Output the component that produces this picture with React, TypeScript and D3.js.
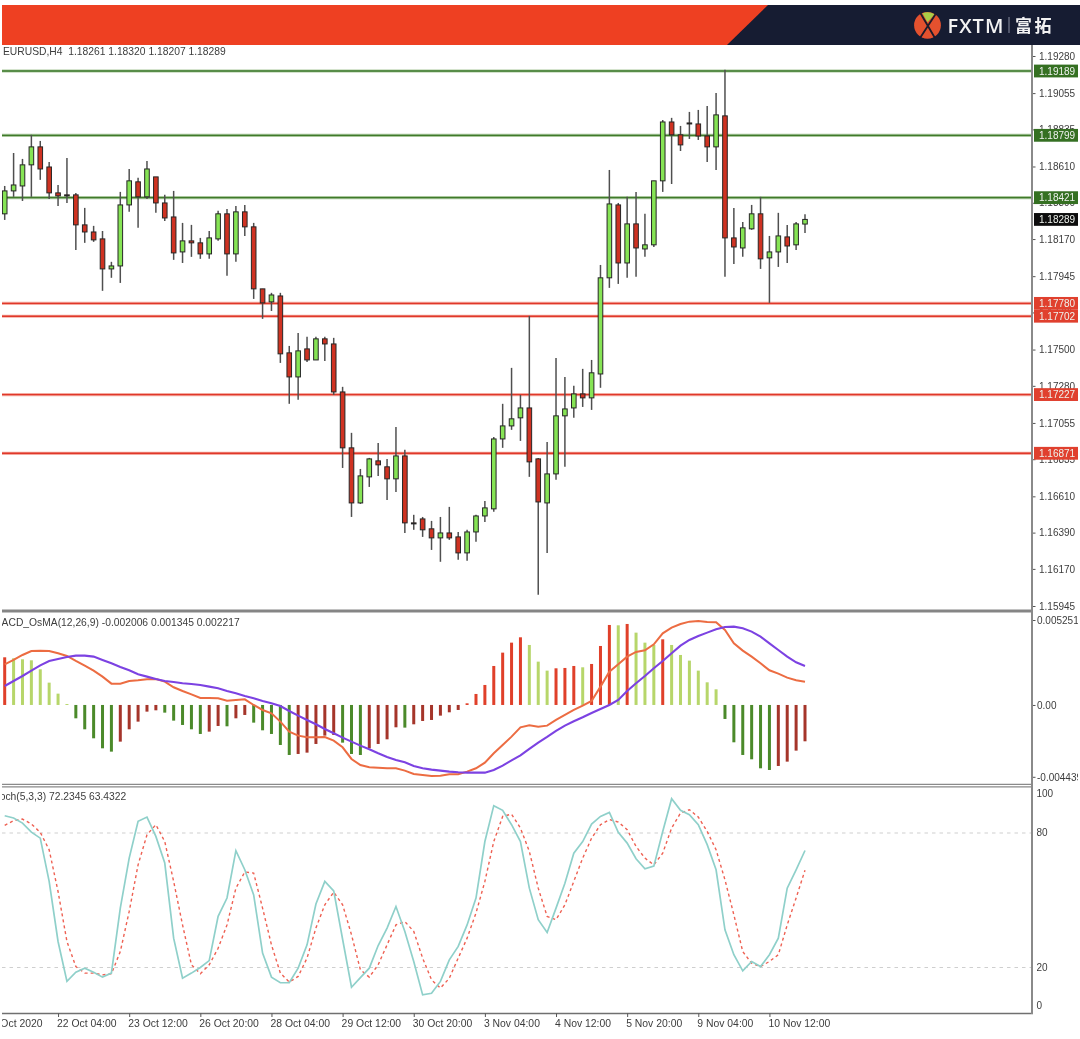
import React, { useEffect, useRef } from 'react';
import * as d3 from 'd3';

const opens = [
  1.18323, 1.18462, 1.18492, 1.18620, 1.18729, 1.18607, 1.18450, 1.18438, 1.18438, 1.18256, 1.18213, 1.18171, 1.17989,
  1.18007, 1.18377, 1.18517, 1.18426, 1.18547, 1.18389, 1.18304, 1.18092, 1.18159, 1.18147, 1.18080, 1.18171, 1.18323,
  1.18080, 1.18335, 1.18244, 1.17868, 1.17789, 1.17825, 1.17480, 1.17334, 1.17504, 1.17437, 1.17565, 1.17534, 1.17243,
  1.16904, 1.16570, 1.16728, 1.16825, 1.16789, 1.16716, 1.16855, 1.16449, 1.16473, 1.16413, 1.16358, 1.16388, 1.16364,
  1.16267, 1.16394, 1.16491, 1.16534, 1.16958, 1.17037, 1.17086, 1.17146, 1.16837, 1.16570, 1.16746, 1.17098, 1.17146,
  1.17231, 1.17207, 1.17352, 1.17935, 1.18377, 1.18025, 1.18262, 1.18110, 1.18135, 1.18523, 1.18880, 1.18802, 1.18874,
  1.18868, 1.18795, 1.18729, 1.18917, 1.18177, 1.18116, 1.18232, 1.18323, 1.18056, 1.18092, 1.18183, 1.18135, 1.18261,
];
const highs = [
  1.18492, 1.18692, 1.18656, 1.18802, 1.18765, 1.18638, 1.18498, 1.18662, 1.18450, 1.18359, 1.18250, 1.18219, 1.18032,
  1.18456, 1.18595, 1.18541, 1.18644, 1.18547, 1.18438, 1.18462, 1.18268, 1.18256, 1.18177, 1.18219, 1.18341, 1.18353,
  1.18371, 1.18377, 1.18268, 1.17868, 1.17844, 1.17844, 1.17522, 1.17601, 1.17577, 1.17577, 1.17577, 1.17571, 1.17274,
  1.16995, 1.16776, 1.16843, 1.16934, 1.16837, 1.17031, 1.16892, 1.16498, 1.16485, 1.16461, 1.16485, 1.16546, 1.16394,
  1.16407, 1.16498, 1.16582, 1.16970, 1.17171, 1.17389, 1.17225, 1.17704, 1.16843, 1.16940, 1.17449, 1.17334, 1.17280,
  1.17383, 1.17437, 1.18013, 1.18589, 1.18389, 1.18426, 1.18456, 1.18323, 1.18523, 1.18892, 1.18905, 1.18856, 1.18941,
  1.18953, 1.18977, 1.19056, 1.19196, 1.18359, 1.18274, 1.18377, 1.18426, 1.18189, 1.18329, 1.18256, 1.18274, 1.18320,
];
const lows = [
  1.18286, 1.18426, 1.18401, 1.18426, 1.18529, 1.18413, 1.18371, 1.18389, 1.18104, 1.18147, 1.18153, 1.17856, 1.17935,
  1.17904, 1.18335, 1.18238, 1.18413, 1.18329, 1.18280, 1.18044, 1.18025, 1.18062, 1.18050, 1.18050, 1.18159, 1.17947,
  1.18032, 1.18189, 1.17807, 1.17686, 1.17734, 1.17419, 1.17171, 1.17195, 1.17425, 1.17437, 1.17431, 1.17225, 1.16782,
  1.16485, 1.16564, 1.16667, 1.16734, 1.16588, 1.16637, 1.16388, 1.16407, 1.16364, 1.16285, 1.16213, 1.16346, 1.16225,
  1.16219, 1.16334, 1.16455, 1.16516, 1.16904, 1.17013, 1.16946, 1.16728, 1.16013, 1.16267, 1.16710, 1.16789, 1.17086,
  1.17152, 1.17134, 1.17268, 1.17874, 1.17898, 1.17935, 1.17941, 1.18062, 1.18122, 1.18456, 1.18504, 1.18704, 1.18777,
  1.18771, 1.18638, 1.18589, 1.17941, 1.18019, 1.18062, 1.18226, 1.17989, 1.17783, 1.18001, 1.18025, 1.18104, 1.18207,
];
const closes = [
  1.18462, 1.18498, 1.18620, 1.18729, 1.18595, 1.18450, 1.18432, 1.18432, 1.18256, 1.18213, 1.18165, 1.17989, 1.18007,
  1.18377, 1.18523, 1.18426, 1.18595, 1.18389, 1.18298, 1.18086, 1.18159, 1.18147, 1.18080, 1.18177, 1.18323, 1.18080,
  1.18335, 1.18244, 1.17868, 1.17783, 1.17831, 1.17474, 1.17334, 1.17492, 1.17437, 1.17565, 1.17534, 1.17243, 1.16904,
  1.16570, 1.16734, 1.16837, 1.16801, 1.16716, 1.16855, 1.16449, 1.16443, 1.16407, 1.16358, 1.16388, 1.16358, 1.16267,
  1.16394, 1.16491, 1.16540, 1.16958, 1.17037, 1.17080, 1.17146, 1.16819, 1.16576, 1.16746, 1.17098, 1.17140, 1.17231,
  1.17207, 1.17359, 1.17935, 1.18383, 1.18025, 1.18262, 1.18116, 1.18135, 1.18523, 1.18880, 1.18802, 1.18741, 1.18868,
  1.18795, 1.18729, 1.18923, 1.18177, 1.18122, 1.18238, 1.18323, 1.18050, 1.18092, 1.18189, 1.18128, 1.18262, 1.18289,
];

const resistanceLevels = [1.19189, 1.18799, 1.18421];
const supportLevels = [1.1778, 1.17702, 1.17227, 1.16871];
const lastPrice = 1.18289;
const priceTicks = [
  1.1928, 1.19055, 1.18835, 1.1861, 1.1839, 1.1817, 1.17945, 1.17725, 1.175, 1.1728, 1.17055, 1.16835, 1.1661, 1.1639,
  1.1617, 1.15945,
];

const osma = [
  0.002946, 0.002884, 0.002822, 0.00276, 0.002204, 0.00138, 0.0007, 0.00006, -0.000824, -0.001504, -0.00206, -0.002678,
  -0.002884, -0.002266, -0.001504, -0.00103, -0.000412, -0.00033, -0.000474, -0.000968, -0.001236, -0.001504, -0.001792,
  -0.001648, -0.001298, -0.001318, -0.000824, -0.000618, -0.001092, -0.001566, -0.001792, -0.002472, -0.00309, -0.003028,
  -0.002946, -0.00241, -0.001895, -0.001854, -0.002328, -0.003028, -0.00309, -0.002678, -0.00241, -0.002122, -0.00138,
  -0.0014, -0.001195, -0.000989, -0.000927, -0.000659, -0.000453, -0.000309, 0.000103, 0.00068, 0.001236, 0.00241,
  0.003234, 0.003852, 0.004182, 0.003708, 0.002678, 0.002122, 0.002266, 0.002287, 0.00241, 0.002328, 0.002534, 0.003646,
  0.004944, 0.004923, 0.005006, 0.00447, 0.003852, 0.003708, 0.004058, 0.003708, 0.00309, 0.00274, 0.002122, 0.0014,
  0.000968, -0.000865, -0.002307, -0.00309, -0.003358, -0.003914, -0.004017, -0.00377, -0.003502, -0.002822, -0.002245,
];
const macdMain = [
  0.002513, 0.002781, 0.00309, 0.003337, 0.003358, 0.003337, 0.003193, 0.003028, 0.002719, 0.002431, 0.002122, 0.001751,
  0.001318, 0.001318, 0.001483, 0.001524, 0.001586, 0.001607, 0.001442, 0.001092, 0.000865, 0.000659, 0.000433, 0.000433,
  0.000412, 0.000268, 0.000309, 0.00035, 0, -0.000309, -0.000515, -0.00103, -0.001648, -0.001895, -0.001998, -0.001998,
  -0.001978, -0.002204, -0.002616, -0.003337, -0.003708, -0.003852, -0.003873, -0.003914, -0.003914, -0.004058, -0.004264,
  -0.004326, -0.004388, -0.004367, -0.004285, -0.004285, -0.00412, -0.003914, -0.003564, -0.002987, -0.002472, -0.001957,
  -0.00138, -0.001257, -0.001339, -0.001277, -0.000927, -0.000618, -0.000309, -0.000041, 0.000247, 0.001133, 0.00206,
  0.002513, 0.002987, 0.003275, 0.003378, 0.003749, 0.004429, 0.004779, 0.005006, 0.00515, 0.005191, 0.005129, 0.005109,
  0.004635, 0.003811, 0.003358, 0.002987, 0.002575, 0.002142, 0.001936, 0.001689, 0.001524, 0.001442,
];
const macdSignal = [
  0.001174, 0.001483, 0.001792, 0.002122, 0.002451, 0.002719, 0.002843, 0.002966, 0.003049, 0.003049, 0.002987, 0.002781,
  0.002575, 0.002348, 0.002142, 0.001895, 0.001751, 0.001607, 0.001483, 0.001421, 0.001339, 0.001298, 0.001236, 0.001133,
  0.00103, 0.000865, 0.000721, 0.000556, 0.000412, 0.000247, 0.000103, -0.000062, -0.000371, -0.000659, -0.000927,
  -0.001195, -0.001483, -0.001751, -0.002019, -0.002266, -0.002513, -0.00274, -0.002987, -0.003214, -0.003399, -0.003543,
  -0.00377, -0.003914, -0.003996, -0.004058, -0.00412, -0.004161, -0.004182, -0.004182, -0.004182, -0.004017, -0.003749,
  -0.00342, -0.003111, -0.002719, -0.002328, -0.001978, -0.001607, -0.001277, -0.001009, -0.000762, -0.000494, -0.000247,
  0, 0.000309, 0.000865, 0.001339, 0.001792, 0.002266, 0.002719, 0.003193, 0.003667, 0.004017, 0.004264, 0.00447, 0.004676,
  0.00482, 0.004841, 0.004738, 0.004532, 0.004223, 0.003811, 0.003399, 0.002987, 0.002637, 0.00241,
];
const macdTicks = [0.005251, 0, -0.004439];

const stochMain = [
  87.7, 86.7, 84.4, 80.4, 77.7, 58.4, 31.6, 13.8, 17.9, 19.7, 17.9, 15.7, 17.5, 46.5, 68.8, 85.2, 87.1, 78.5, 66.6, 33.1,
  15.2, 17.5, 20, 23.1, 42.8, 51, 72.1, 63.6, 52.4, 26.4, 15.7, 13.2, 13.2, 19.7, 30.1, 48.3, 58.4, 54.2, 32.6, 11.2, 15.5,
  19.7, 29.8, 37.6, 47.2, 36.1, 22.7, 7.8, 8.5, 13.8, 23.4, 29.4, 39, 51, 76.2, 92.2, 90.1, 83.7, 76.2, 55.4, 41.3, 35.6,
  46.5, 57.6, 71, 76.2, 84, 87.4, 89.2, 80.3, 75.5, 68.5, 64, 65.2, 80.7, 95.3, 90.1, 88.2, 83.7, 74.8, 63.6, 36.8, 25.7,
  18.5, 22.7, 20.4, 25.7, 33.1, 55.4, 63.6, 72.2,
];
const stochSignal = [
  83.4, 85.5, 86.2, 84, 80.3, 72.5, 53.9, 31.6, 20.4, 17.5, 17.5, 16.7, 17.2, 27.1, 45, 65.8, 79.2, 83.7, 76.2, 58.4, 39,
  21.2, 17.2, 21.2, 28.6, 39, 55.4, 62.6, 62.1, 46.5, 30.1, 17.5, 13.5, 16, 24.2, 37.6, 48, 53.6, 48, 34.6, 19, 15.7, 21.2,
  30.1, 39, 40.5, 36.1, 24.2, 14.5, 10.8, 15.2, 24.2, 33.1, 44.3, 58.4, 76.2, 87.4, 88.4, 82.2, 71.8, 55.4, 42.8, 41.3, 48,
  58.4, 68.8, 77.7, 83.7, 86, 84.9, 81.5, 74, 68.8, 65.8, 71, 82.2, 88.9, 90.4, 87.1, 80.7, 72.5, 59.1, 43.5, 27.1, 21.9,
  20.4, 22.7, 25.7, 39, 51, 63.4,
];
const stochTicks = [100, 80, 20, 0];
const stochLevels = [80, 20];

const timeTickBars = [-2, 6, 14, 22, 30, 38, 46, 54, 62, 70, 78, 86];
const timeTickLabels = [
  '21 Oct 2020',
  '22 Oct 04:00',
  '23 Oct 12:00',
  '26 Oct 20:00',
  '28 Oct 04:00',
  '29 Oct 12:00',
  '30 Oct 20:00',
  '3 Nov 04:00',
  '4 Nov 12:00',
  '5 Nov 20:00',
  '9 Nov 04:00',
  '10 Nov 12:00',
];

const font = '"Liberation Sans", Arial, sans-serif';
const textColor = '#3d3d3d';

const App: React.FC = () => {
  const chartRef = useRef<SVGSVGElement | null>(null);

  useEffect(() => {
    if (chartRef.current) {
      drawChart();
    }
  }, []);

  const drawChart = () => {
    const svg = d3.select(chartRef.current);
    svg.selectAll('*').remove();

    const left = 2;
    const axisX = 1032;

    const defs = svg.append('defs');
    defs.append('filter')
      .attr('id', 'soft')
      .attr('x', 0).attr('y', 0).attr('width', 1).attr('height', 1)
      .append('feGaussianBlur')
      .attr('stdDeviation', 0.5);
    defs.append('clipPath')
      .attr('id', 'plot')
      .append('rect')
      .attr('x', left).attr('y', 45).attr('width', axisX - left).attr('height', 1039 - 45);
    defs.append('clipPath')
      .attr('id', 'page')
      .append('rect')
      .attr('x', left).attr('y', 0).attr('width', 1076).attr('height', 1039);

    const root = svg.append('g').attr('filter', 'url(#soft)');
    root.append('rect').attr('width', 1080).attr('height', 1039).attr('fill', '#fff');

    const x = d3.scaleLinear().domain([0, 90]).range([4.7, 805]);
    const yPrice = d3.scaleLinear().domain([1.1928, 1.15945]).range([56, 606]);
    const yMacd = d3.scaleLinear().domain([0.005251, -0.004439]).range([620, 776.8]);
    const yStoch = d3.scaleLinear().domain([80, 20]).range([833, 967.5]);

    drawBanner(root);

    const plot = root.append('g').attr('clip-path', 'url(#plot)');

    // horizontal levels sit behind the candles
    const drawLevel = (price: number, halo: string, core: string) => {
      plot.append('line')
        .attr('x1', left).attr('x2', axisX)
        .attr('y1', yPrice(price)).attr('y2', yPrice(price))
        .attr('stroke', halo).attr('stroke-width', 3.2);
      plot.append('line')
        .attr('x1', left).attr('x2', axisX)
        .attr('y1', yPrice(price)).attr('y2', yPrice(price))
        .attr('stroke', core).attr('stroke-width', 1.4);
    };
    resistanceLevels.forEach(p => drawLevel(p, '#a9c79c', '#3f7a2c'));
    supportLevels.forEach(p => drawLevel(p, '#f4aaa0', '#e0392a'));

    const bars = d3.range(opens.length);
    plot.selectAll('.wick')
      .data(bars)
      .enter().append('line')
      .attr('class', 'wick')
      .attr('x1', i => x(i)).attr('x2', i => x(i))
      .attr('y1', i => yPrice(highs[i])).attr('y2', i => yPrice(lows[i]))
      .attr('stroke', '#505050').attr('stroke-width', 1.5);
    plot.selectAll('.body')
      .data(bars)
      .enter().append('rect')
      .attr('class', 'body')
      .attr('x', i => x(i) - 2.3)
      .attr('width', 4.6)
      .attr('y', i => yPrice(Math.max(opens[i], closes[i])))
      .attr('height', i => Math.max(1, Math.abs(yPrice(opens[i]) - yPrice(closes[i]))))
      .attr('fill', i => (closes[i] >= opens[i] ? '#86e455' : '#cf3320'))
      .attr('stroke', '#262626').attr('stroke-width', 1);

    // OsMA histogram, colour follows sign and direction
    const barColor = (i: number) => {
      const rising = i === 0 || osma[i] >= osma[i - 1];
      if (osma[i] >= 0) return rising ? '#e0402a' : '#b7d66b';
      return rising ? '#a5352b' : '#4c8a2b';
    };
    plot.selectAll('.osma')
      .data(bars)
      .enter().append('rect')
      .attr('class', 'osma')
      .attr('x', i => x(i) - 1.5)
      .attr('width', 3)
      .attr('y', i => Math.min(yMacd(osma[i]), yMacd(0)))
      .attr('height', i => Math.abs(yMacd(osma[i]) - yMacd(0)))
      .attr('fill', barColor);

    const macdLine = d3.line<number>().x((_, i) => x(i)).y(d => yMacd(d));
    plot.append('path')
      .attr('d', macdLine(macdMain))
      .attr('fill', 'none').attr('stroke', '#ec6c42').attr('stroke-width', 2);
    plot.append('path')
      .attr('d', macdLine(macdSignal))
      .attr('fill', 'none').attr('stroke', '#7c42e2').attr('stroke-width', 2.1);

    stochLevels.forEach(v => {
      plot.append('line')
        .attr('x1', left).attr('x2', axisX)
        .attr('y1', yStoch(v)).attr('y2', yStoch(v))
        .attr('stroke', '#cfcfcf').attr('stroke-width', 1.2)
        .attr('stroke-dasharray', '3.5,4');
    });
    const stochLine = d3.line<number>().x((_, i) => x(i)).y(d => yStoch(d));
    plot.append('path')
      .attr('d', stochLine(stochSignal))
      .attr('fill', 'none').attr('stroke', '#ee6052').attr('stroke-width', 1.4)
      .attr('stroke-dasharray', '3,3');
    plot.append('path')
      .attr('d', stochLine(stochMain))
      .attr('fill', 'none').attr('stroke', '#8fd0ca').attr('stroke-width', 1.7);

    // panel separators and axis rail
    const rule = (x1: number, x2: number, y1: number, y2: number, w: number, c: string) =>
      root.append('line')
        .attr('x1', x1).attr('x2', x2).attr('y1', y1).attr('y2', y2)
        .attr('stroke', c).attr('stroke-width', w);
    rule(left, axisX + 1, 611, 611, 3, '#858585');
    rule(left, axisX + 1, 784.3, 784.3, 1.2, '#8a8a8a');
    rule(left, axisX + 1, 786.8, 786.8, 1.2, '#8a8a8a');
    rule(left, axisX + 1, 1013.5, 1013.5, 1.5, '#6f6f6f');
    rule(axisX, axisX, 45, 1014, 2, '#8a8a8a');

    // right axes
    const styleAxis = (g: d3.Selection<SVGGElement, unknown, null, undefined>) => {
      g.select('.domain').remove();
      g.selectAll('line').attr('stroke', '#555');
      g.selectAll('text')
        .attr('font-family', font)
        .attr('font-size', 10)
        .attr('fill', textColor);
    };

    const labels = root.append('g').attr('clip-path', 'url(#page)');

    labels.append('g')
      .attr('transform', `translate(${axisX + 1},0)`)
      .call(d3.axisRight(yPrice).tickValues(priceTicks).tickFormat(d3.format('.5f')).tickSize(2.5).tickPadding(3.5))
      .call(styleAxis);

    labels.append('g')
      .attr('transform', `translate(${axisX + 1},0)`)
      .call(d3.axisRight(yMacd).tickValues(macdTicks)
        .tickFormat(d => (d === 0 ? '0.00' : String((d as number).toFixed(6)))).tickSize(2.5).tickPadding(1.5))
      .call(styleAxis);

    // MT4 pushes the outer stochastic labels inside the panel
    const stochAxis = labels.append('g')
      .attr('transform', `translate(${axisX + 1},0)`)
      .call(d3.axisRight(yStoch).tickValues(stochTicks).tickSize(0).tickPadding(3.5))
      .call(styleAxis);
    stochAxis.selectAll<SVGGElement, number>('.tick')
      .attr('transform', d => `translate(0,${Math.min(1005.5, Math.max(794, yStoch(d)))})`);

    const priceBox = (price: number, fill: string) => {
      const cy = yPrice(price);
      labels.append('rect')
        .attr('x', 1034).attr('y', cy - 6.4)
        .attr('width', 44.5).attr('height', 12.8)
        .attr('fill', fill);
      labels.append('text')
        .attr('x', 1039).attr('y', cy + 3.6)
        .attr('font-family', font).attr('font-size', 10)
        .attr('fill', '#eef2ec')
        .text(d3.format('.5f')(price));
    };
    resistanceLevels.forEach(p => priceBox(p, '#356f24'));
    supportLevels.forEach(p => priceBox(p, '#e0402f'));
    priceBox(lastPrice, '#0d0d0d');

    // bottom time axis
    labels.append('g')
      .attr('transform', 'translate(0,1013.5)')
      .call(d3.axisBottom(x).tickValues(timeTickBars)
        .tickFormat((_, i) => timeTickLabels[i]).tickSize(3.5).tickPadding(2.5))
      .call(styleAxis)
      .call(g => g.selectAll('text')
        .attr('text-anchor', 'start')
        .attr('dx', -1.5)
        .attr('font-size', 10.4));

    // panel captions, the left edge of the window cuts two of them
    const caption = (tx: number, ty: number, s: string) =>
      labels.append('text')
        .attr('x', tx).attr('y', ty)
        .style('white-space', 'pre')
        .attr('font-family', font).attr('font-size', 10.3)
        .attr('fill', textColor)
        .text(s);
    caption(3, 55, 'EURUSD,H4  1.18261 1.18320 1.18207 1.18289');
    caption(-7, 625.5, 'MACD_OsMA(12,26,9) -0.002006 0.001345 0.002217');
    caption(-10, 800, 'Stoch(5,3,3) 72.2345 63.4322');
  };

  const drawBanner = (root: d3.Selection<SVGGElement, unknown, null, undefined>) => {
    root.append('polygon')
      .attr('points', '2,5 1080,5 1080,45 2,45')
      .attr('fill', '#141a33');
    root.append('polygon')
      .attr('points', '2,5 768,5 727,45 2,45')
      .attr('fill', '#ee4023');

    const logo = root.append('g').attr('transform', 'translate(927.5,25.3)');
    logo.append('circle').attr('r', 13.4).attr('fill', '#e4512f');
    logo.append('path').attr('d', 'M-5,-12 L0,-3 L7,-11 A13.4,13.4 0 0 0 -5,-12 Z').attr('fill', '#a9cc46');
    logo.append('path')
      .attr('d', 'M-7,-12 L7,12 M8,-11 L-7,12')
      .attr('stroke', '#1c1a2a').attr('stroke-width', 1.8).attr('fill', 'none');
    root.append('text')
      .attr('x', 947.5).attr('y', 32.5)
      .attr('font-family', '"Open Sans", sans-serif').attr('font-size', 20).attr('font-weight', 600)
      .attr('letter-spacing', 1)
      .attr('fill', '#f2f2f2')
      .text('FXTM');
    root.append('line')
      .attr('x1', 1009).attr('x2', 1009).attr('y1', 17).attr('y2', 33)
      .attr('stroke', '#8d8fa0').attr('stroke-width', 1);
    root.append('text')
      .attr('x', 1015).attr('y', 32)
      .attr('font-family', '"Noto Sans CJK SC", sans-serif').attr('font-size', 17).attr('font-weight', 700)
      .attr('letter-spacing', 2.5)
      .attr('fill', '#f2f2f2')
      .text('富拓');
  };

  return (
    <svg
      ref={chartRef}
      width={1080}
      height={1039}
      style={{ position: 'absolute', left: 0, top: 0, display: 'block' }}
    ></svg>
  );
};

export default App;
